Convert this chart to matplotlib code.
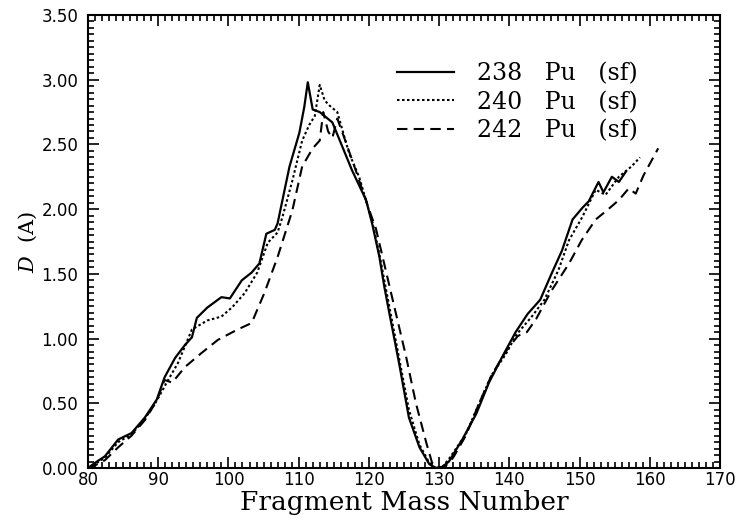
import matplotlib
matplotlib.use("Agg")
import matplotlib.pyplot as plt
from matplotlib.ticker import MultipleLocator, FormatStrFormatter

plt.rcParams['mathtext.fontset'] = 'dejavuserif'

# ---- data ----
a_238 = [80, 81, 82.4, 84.3, 86.2, 88.1, 89.8, 90.9, 92.4, 93.8, 94.8, 95.5, 97.0, 99.0,
         100.2, 101.9, 103.3, 104.4, 105.4, 106.6, 107.0, 108.0, 108.7, 110.1, 110.8, 111.3,
         112.0, 113.0, 114.8, 117.6, 119.6, 120.5, 121.5, 122.2, 122.9, 124.3, 125.7, 127.2,
         128.6, 129.5, 130.5, 131.4, 133.3, 135.3, 137.1, 139.0, 140.9, 142.6, 144.4, 146.0,
         147.5, 149.0, 150.4, 151.3, 152.7, 153.4, 154.6, 155.6, 156.6]
d_238 = [0.00, 0.04, 0.09, 0.22, 0.27, 0.39, 0.53, 0.70, 0.85, 0.95, 1.01, 1.16, 1.24, 1.32,
         1.31, 1.45, 1.51, 1.58, 1.81, 1.84, 1.89, 2.15, 2.33, 2.59, 2.79, 2.98,
         2.77, 2.75, 2.67, 2.30, 2.07, 1.88, 1.63, 1.40, 1.20, 0.81, 0.39, 0.16,
         0.03, 0.00, 0.01, 0.05, 0.22, 0.42, 0.66, 0.86, 1.05, 1.19, 1.30, 1.50,
         1.68, 1.92, 2.01, 2.06, 2.21, 2.13, 2.25, 2.21, 2.29]

a_240 = [80, 81, 82.4, 84.3, 86.2, 88.1, 89.8, 91.2, 92.8, 94.8, 97.0, 99.0, 100.5, 102.3,
         104.1, 105.6, 107.0, 107.7, 109.1, 110.5, 111.5, 112.3, 113.0, 113.7, 114.4, 115.5,
         116.5, 117.2, 118.6, 120.5, 121.5, 122.9, 124.3, 125.7, 127.2, 128.6, 129.5, 130.5,
         131.4, 133.8, 135.7, 137.5, 139.5, 141.0, 143.2, 145.0, 147.0, 148.5, 150.4, 152.3,
         153.7, 155.6, 157.4, 158.6]
d_240 = [0.00, 0.03, 0.08, 0.20, 0.26, 0.38, 0.52, 0.66, 0.81, 1.07, 1.14, 1.17, 1.24, 1.35,
         1.51, 1.74, 1.82, 1.94, 2.22, 2.53, 2.65, 2.72, 2.96, 2.84, 2.80, 2.75,
         2.56, 2.43, 2.25, 1.90, 1.65, 1.25, 0.85, 0.45, 0.18, 0.04, 0.00, 0.01,
         0.07, 0.26, 0.50, 0.72, 0.88, 1.03, 1.17, 1.30, 1.53, 1.76, 1.94, 2.15,
         2.11, 2.25, 2.33, 2.40]

a_242 = [80, 81, 82.4, 84.3, 86.2, 88.1, 89.8, 90.9, 92.0, 93.8, 96.2, 98.5, 101.3, 103.3,
         105.1, 107.0, 109.1, 110.5, 112.0, 113.0, 113.5, 114.2, 114.8, 115.5, 116.5, 118.0,
         120.0, 121.0, 122.0, 123.3, 125.3, 126.7, 128.2, 129.0, 130.0, 131.0, 132.0, 133.8,
         135.7, 137.5, 139.5, 141.2, 142.5, 143.8, 146.0, 148.5, 150.3, 152.3, 154.1, 155.6,
         157.0, 158.0, 159.1, 160.8, 161.2]
d_242 = [0.00, 0.02, 0.06, 0.16, 0.25, 0.37, 0.52, 0.68, 0.66, 0.78, 0.89, 0.99, 1.07, 1.12,
         1.35, 1.63, 1.99, 2.33, 2.47, 2.53, 2.75, 2.60, 2.55, 2.70, 2.55, 2.32,
         2.00, 1.85, 1.62, 1.32, 0.86, 0.50, 0.19, 0.04, 0.00, 0.02, 0.08, 0.25,
         0.50, 0.72, 0.90, 1.02, 1.05, 1.15, 1.37, 1.58, 1.76, 1.92, 2.00, 2.07,
         2.16, 2.12, 2.26, 2.43, 2.47]

labels = ["238   Pu   (sf)", "240   Pu   (sf)", "242   Pu   (sf)"]
xticks = [80, 90, 100, 110, 120, 130, 140, 150, 160, 170]
yticks = [0.0, 0.5, 1.0, 1.5, 2.0, 2.5, 3.0, 3.5]

# ---- figure ----
fig = plt.figure(figsize=(7.37, 5.22), dpi=100)
ax = fig.add_axes([88/737, 1-468/522, (720-88)/737, (468-15)/522])

ax.plot(a_238, d_238, color='black', lw=1.6, ls='-', label=labels[0])
ax.plot(a_240, d_240, color='black', lw=1.5, ls=(0, (1.2, 1.2)), label=labels[1])
ax.plot(a_242, d_242, color='black', lw=1.5, ls=(0, (5, 3)), label=labels[2])

ax.set_xlim(80, 170)
ax.set_ylim(0, 3.5)
ax.set_xticks(xticks)
ax.set_yticks(yticks)
ax.xaxis.set_minor_locator(MultipleLocator(1))
ax.yaxis.set_minor_locator(MultipleLocator(0.05))
ax.yaxis.set_major_formatter(FormatStrFormatter('%.2f'))
ax.tick_params(which='both', direction='in', top=True, right=True, width=1.2)
ax.tick_params(which='major', length=8)
ax.tick_params(which='minor', length=4.5)
ax.tick_params(axis='x', which='major', pad=2, labelsize=12)
ax.tick_params(axis='y', which='major', pad=7, labelsize=12)
for sp in ax.spines.values():
    sp.set_linewidth(1.5)

ax.set_xlabel("Fragment Mass Number", fontsize=19, family='DejaVu Serif', labelpad=1)
ax.set_ylabel(r"$D$  (A)", fontsize=15, family='DejaVu Serif', labelpad=2)

leg = ax.legend(loc='upper left', bbox_to_anchor=(0.489, 0.895), frameon=False,
                prop={'family': 'DejaVu Serif', 'size': 17},
                handlelength=2.4, handletextpad=1.0, labelspacing=0.22,
                borderpad=0, borderaxespad=0)

fig.savefig("out.png", dpi=100)
